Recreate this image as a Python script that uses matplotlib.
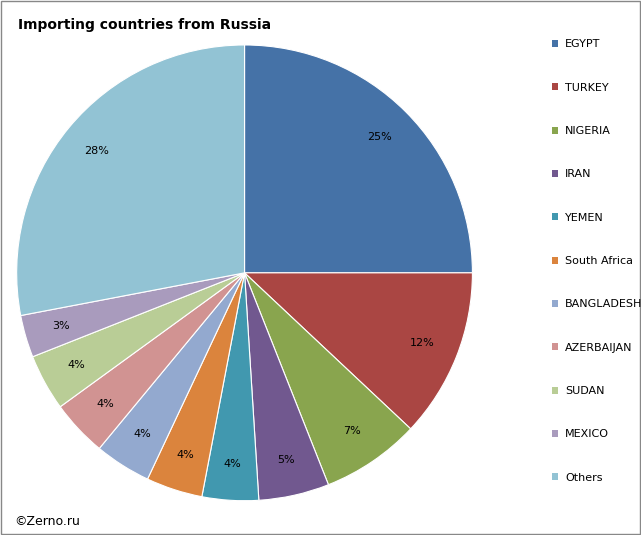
import matplotlib.pyplot as plt
from matplotlib.patches import Patch, Rectangle

countries = ["EGYPT", "TURKEY", "NIGERIA", "IRAN", "YEMEN", "South Africa",
             "BANGLADESH", "AZERBAIJAN", "SUDAN", "MEXICO", "Others"]
shares = [25, 12, 7, 5, 4, 4, 4, 4, 4, 3, 28]
colors = ["#4572A7", "#AA4643", "#89A54E", "#71588F", "#4198AF", "#DB843D",
          "#93A9CF", "#D19392", "#B9CD96", "#A99BBD", "#92C3D4"]

fig = plt.figure(figsize=(6.41, 5.35), dpi=100)
ax = fig.add_axes([0.026, 0.064, 0.711, 0.852])
ax.pie(shares, colors=colors, startangle=90, counterclock=False,
       autopct="%d%%", pctdistance=0.84, radius=1.0,
       wedgeprops=dict(edgecolor="white", linewidth=0.8),
       textprops=dict(fontsize=8, color="black"))
ax.set_aspect("equal")
ax.set_xlim(-1, 1)
ax.set_ylim(-1, 1)

handles = [Patch(facecolor=c, edgecolor="none") for c in colors]
fig.legend(handles, countries, loc="upper left", bbox_to_anchor=(0.845, 0.945),
           frameon=False, fontsize=8, labelspacing=3.0,
           handlelength=0.6, handleheight=0.6, handletextpad=0.6)

fig.text(0.028, 0.953, "Importing countries from Russia", fontsize=10,
         fontweight="bold", va="center")
fig.text(0.023, 0.026, "©Zerno.ru", fontsize=9, va="center")
fig.patches.append(Rectangle((0.001, 0.001), 0.997, 0.997, transform=fig.transFigure,
                             fill=False, edgecolor="#888888", linewidth=1))

fig.savefig("out.png", dpi=100)
